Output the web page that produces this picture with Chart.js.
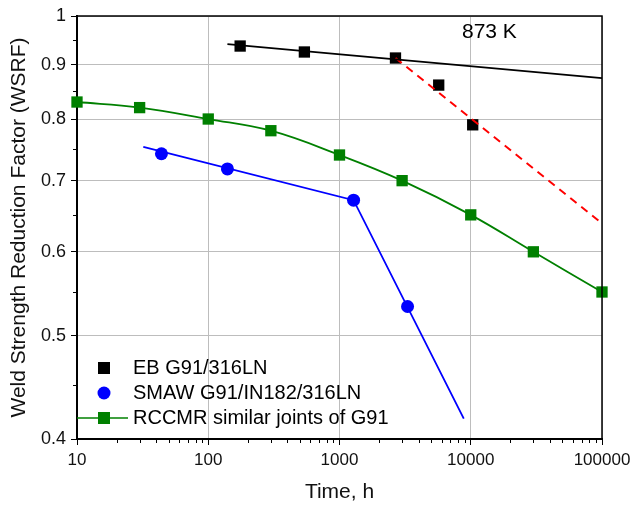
<!doctype html>
<html lang="en">
<head>
<meta charset="utf-8">
<title>WSRF vs time</title>
<style>
  body { margin: 0; background: #fff; }
  .chartCard { width: 633px; height: 506px; }
</style>
</head>
<body>
<div class="chartCard">
  <canvas id="myChart" width="633" height="506"></canvas>
</div>
<script src="https://cdn.jsdelivr.net/npm/chart.js"></script>
<script>
// values
const ebHours = [175, 540, 2670, 5700, 10350];
const ebWsrf = [0.937, 0.925, 0.913, 0.861, 0.79];
const ebFitHours = [140, 100000];
const ebFitWsrf = [0.941, 0.874];
const ebDropHours = [2670, 100000];
const ebDropWsrf = [0.913, 0.638];
const smawHours = [44, 140, 1280, 3300];
const smawWsrf = [0.742, 0.718, 0.671, 0.533];
const smawFitHours = [32, 1280, 8850];
const smawFitWsrf = [0.753, 0.671, 0.418];
const rccmrHours = [10, 30, 100, 300, 1000, 3000, 10000, 30000, 100000];
const rccmrWsrf = [0.83, 0.82, 0.80, 0.78, 0.74, 0.70, 0.65, 0.60, 0.55];
const xTicks = [10, 100, 1000, 10000, 100000];
const yTicks = [0.4, 0.5, 0.6, 0.7, 0.8, 0.9, 1];
const yMinorTicks = [0.45, 0.55, 0.65, 0.75, 0.85, 0.95];
const legendLabels = ['EB G91/316LN', 'SMAW G91/IN182/316LN', 'RCCMR similar joints of G91'];
const tempLabel = '873 K';

const FONT = '"Liberation Sans", Arial, sans-serif';

function pts(xs, ys) {
    return xs.map((x, i) => ({ x: x, y: ys[i] }));
}

// frame, minor ticks, legend and temperature label
const extras = {
    id: 'extras',
    afterDraw: (chart) => {
        const ctx = chart.ctx;
        const a = chart.chartArea;
        const xs = chart.scales.x;
        const ys = chart.scales.y;
        ctx.save();
        ctx.strokeStyle = '#000';
        ctx.lineWidth = 1.5;
        ctx.beginPath();
        ctx.moveTo(a.left, a.top);
        ctx.lineTo(a.right, a.top);
        ctx.lineTo(a.right, a.bottom);
        ctx.stroke();

        // minor ticks
        ctx.lineWidth = 1;
        ctx.beginPath();
        for (let d = 10; d < 100000; d *= 10) {
            for (let m = 2; m <= 9; m++) {
                const px = Math.round(xs.getPixelForValue(m * d)) + 0.5;
                ctx.moveTo(px, a.bottom);
                ctx.lineTo(px, a.bottom + 4);
            }
        }
        yMinorTicks.forEach(v => {
            const py = Math.round(ys.getPixelForValue(v)) + 0.5;
            ctx.moveTo(a.left - 4, py);
            ctx.lineTo(a.left, py);
        });
        ctx.stroke();

        // legend
        ctx.font = '20px ' + FONT;
        ctx.textBaseline = 'middle';
        const lx = a.left + 27;
        const rows = [368, 393, 418];
        ctx.fillStyle = '#000';
        ctx.fillRect(lx - 6, rows[0] - 6, 12, 12);
        ctx.fillStyle = '#0000ff';
        ctx.beginPath();
        ctx.arc(lx, rows[1], 6.5, 0, Math.PI * 2);
        ctx.fill();
        ctx.strokeStyle = '#008000';
        ctx.lineWidth = 1.5;
        ctx.beginPath();
        ctx.moveTo(a.left, rows[2]);
        ctx.lineTo(lx + 24, rows[2]);
        ctx.stroke();
        ctx.fillStyle = '#008000';
        ctx.fillRect(lx - 6, rows[2] - 6, 12, 12);
        ctx.fillStyle = '#000';
        legendLabels.forEach((t, i) => ctx.fillText(t, lx + 29, rows[i]));

        ctx.font = '21px ' + FONT;
        ctx.fillText(tempLabel, 462, 32);
        ctx.restore();
    }
};

const data = {
    datasets: [{
        label: 'EB fit',
        data: pts(ebFitHours, ebFitWsrf),
        showLine: true,
        borderColor: '#000',
        borderWidth: 1.8,
        pointRadius: 0
    }, {
        label: 'EB drop',
        data: pts(ebDropHours, ebDropWsrf),
        showLine: true,
        borderColor: '#ff0000',
        borderWidth: 2,
        borderDash: [8, 6],
        pointRadius: 0
    }, {
        label: legendLabels[0],
        data: pts(ebHours, ebWsrf),
        backgroundColor: '#000',
        borderColor: '#000',
        pointStyle: 'rect',
        pointRadius: 8,
        borderWidth: 0
    }, {
        label: 'SMAW fit',
        data: pts(smawFitHours, smawFitWsrf),
        showLine: true,
        borderColor: '#0000ff',
        borderWidth: 1.8,
        pointRadius: 0
    }, {
        label: legendLabels[1],
        data: pts(smawHours, smawWsrf),
        backgroundColor: '#0000ff',
        borderColor: '#0000ff',
        pointRadius: 6.5,
        borderWidth: 0
    }, {
        label: legendLabels[2],
        data: pts(rccmrHours, rccmrWsrf),
        showLine: true,
        tension: 0.4,
        borderColor: '#008000',
        borderWidth: 1.8,
        backgroundColor: '#008000',
        pointStyle: 'rect',
        pointRadius: 8,
        pointBorderWidth: 0
    }]
};

const config = {
    type: 'scatter',
    data: data,
    plugins: [extras],
    options: {
        responsive: false,
        animation: false,
        clip: false,
        layout: { padding: { top: 16, right: 31, left: 0, bottom: 0 } },
        plugins: {
            legend: { display: false },
            tooltip: { enabled: false }
        },
        scales: {
            x: {
                type: 'logarithmic',
                min: 10,
                max: 100000,
                afterBuildTicks: (scale) => { scale.ticks = xTicks.map(v => ({ value: v })); },
                afterFit: (scale) => {
                    scale.height = 67;
                    scale.paddingLeft = 0;
                    scale.paddingRight = 0;
                },
                ticks: {
                    autoSkip: false,
                    maxRotation: 0,
                    padding: 5,
                    color: '#111',
                    font: { family: FONT, size: 17 },
                    callback: (v) => String(v)
                },
                grid: { color: '#bdbdbd', lineWidth: 1, tickColor: '#000', tickLength: 6 },
                border: { color: '#000', width: 2 },
                title: {
                    display: true,
                    text: 'Time, h',
                    color: '#111',
                    font: { family: FONT, size: 21 },
                    padding: { top: 0, bottom: 1 }
                }
            },
            y: {
                type: 'logarithmic',
                min: 0.4,
                max: 1,
                afterBuildTicks: (scale) => { scale.ticks = yTicks.map(v => ({ value: v })); },
                afterFit: (scale) => {
                    scale.width = 77;
                    scale.paddingTop = 0;
                    scale.paddingBottom = 0;
                },
                ticks: {
                    autoSkip: false,
                    padding: 5,
                    color: '#111',
                    font: { family: FONT, size: 18 },
                    callback: (v) => String(v)
                },
                grid: { color: '#bdbdbd', lineWidth: 1, tickColor: '#000', tickLength: 6 },
                border: { color: '#000', width: 2 },
                title: {
                    display: true,
                    text: 'Weld Strength Reduction Factor (WSRF)',
                    color: '#111',
                    font: { family: FONT, size: 21 },
                    padding: { top: 7, bottom: 0 }
                }
            }
        }
    }
};

const myChart = new Chart(document.getElementById('myChart'), config);
</script>
</body>
</html>
